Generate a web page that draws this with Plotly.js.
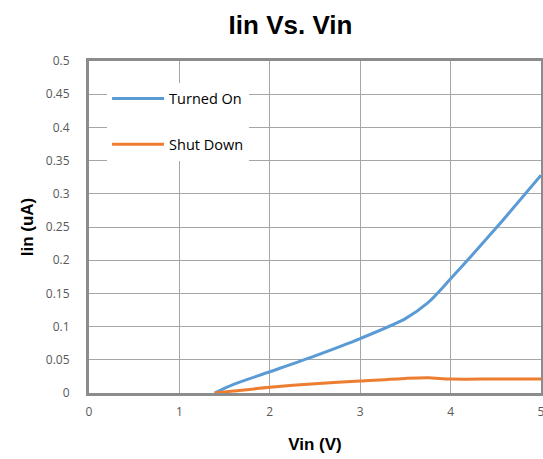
<!DOCTYPE html>
<html>
<head>
<meta charset="utf-8">
<script src="https://cdn.plot.ly/plotly-3.0.1.min.js"></script>
<style>html,body{margin:0;padding:0;background:#fff;}#chart{width:543px;height:459px;}</style>
</head>
<body>
<div id="chart"></div>
<script>
var vin = [1.39, 1.6, 2.0, 2.5, 3.0, 3.5, 3.75, 4.0, 4.5, 5.0];
var turnedOn = [0.0, 0.013, 0.032, 0.056, 0.082, 0.112, 0.136, 0.172, 0.248, 0.328];
var shutDown = [0.0, 0.003, 0.0086, 0.014, 0.018, 0.022, 0.023, 0.021, 0.021, 0.021];
var xTicks = [0, 1, 2, 3, 4, 5];
var yTicks = [0, 0.05, 0.1, 0.15, 0.2, 0.25, 0.3, 0.35, 0.4, 0.45, 0.5];

var traces = [
  {x: vin, y: turnedOn, name: 'Turned On', mode: 'lines', legendgroup: 'a',
   line: {color: '#5b9bd5', width: 3, shape: 'spline', smoothing: 0.8}},
  {x: vin, y: shutDown, name: 'Shut Down', mode: 'lines', legendgroup: 'b',
   line: {color: '#ed7d31', width: 3, shape: 'spline', smoothing: 0.8}}
];

var tickFont = {family: 'Open Sans, sans-serif', size: 12, color: '#595959'};
var titleFont = {family: 'Liberation Sans, Arial, sans-serif', size: 17, color: '#000'};

var layout = {
  width: 543, height: 459,
  margin: {l: 89, r: 2, t: 61, b: 66},
  paper_bgcolor: '#fff', plot_bgcolor: '#fff',
  title: {text: '<b>Iin Vs. Vin</b>', x: 0.535, xanchor: 'center', y: 0.945, yanchor: 'middle',
          font: {family: 'Liberation Sans, Arial, sans-serif', size: 26, color: '#000'}},
  xaxis: {range: [0, 5], tickvals: xTicks, ticktext: xTicks.map(String), tickfont: tickFont,
          ticklabeloverflow: 'allow', ticklabelstandoff: 6,
          showgrid: true, gridcolor: '#a6a6a6', gridwidth: 1, zeroline: false,
          showline: true, mirror: true, linecolor: '#8c8c8c', linewidth: 3, ticks: '',
          title: {text: '<b>Vin (V)</b>', font: titleFont, standoff: 19}},
  yaxis: {range: [0, 0.5], tickvals: yTicks, ticktext: yTicks.map(String), tickfont: tickFont,
          showgrid: true, gridcolor: '#a6a6a6', gridwidth: 1, zeroline: false,
          showline: true, mirror: true, linecolor: '#8c8c8c', linewidth: 3, ticks: '',
          ticklabelstandoff: 14,
          title: {text: '<b>Iin (uA)</b>', font: titleFont, standoff: 8}},
  showlegend: true,
  legend: {x: 0.04, y: 0.935, xanchor: 'left', yanchor: 'top', bgcolor: '#fff',
           font: {family: 'Open Sans, sans-serif', size: 14.5, color: '#000'},
           tracegroupgap: 24, itemwidth: 52},
};

Plotly.newPlot('chart', traces, layout, {displayModeBar: false, staticPlot: true});
</script>
</body>
</html>
